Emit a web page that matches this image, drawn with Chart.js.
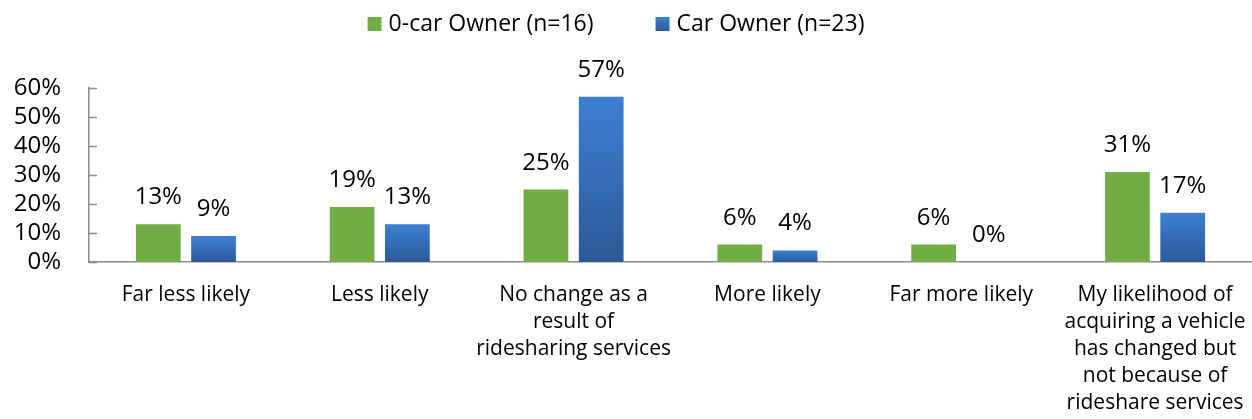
<!DOCTYPE html>
<html>
<head>
<meta charset="utf-8">
<script src="https://cdn.jsdelivr.net/npm/chart.js@4/dist/chart.umd.min.js"></script>
<style>
  body { margin: 0; background: #fff; }
  #wrap { width: 1252px; height: 419px; }
</style>
</head>
<body>
<div id="wrap"><canvas id="grafico" width="1252" height="419"></canvas></div>
<script>
const categorias = [
  'Far less likely',
  'Less likely',
  ['No change as a', 'result of', 'ridesharing services'],
  'More likely',
  'Far more likely',
  ['My likelihood of', 'acquiring a vehicle', 'has changed but', 'not because of', 'rideshare services']
];
const series = ['0-car Owner (n=16)', 'Car Owner (n=23)'];
const semCarro = [13, 19, 25, 6, 6, 31];
const comCarro = [9, 13, 57, 4, 0, 17];
const ticksY = [0, 10, 20, 30, 40, 50, 60];

const fonte = '"Open Sans", "Liberation Sans", sans-serif';
const corEixo = '#8c8c8c';
const verde = '#70ad47';

// gradiente do azul, um por barra (claro em cima, escuro embaixo)
function azul(ctx) {
  const chart = ctx.chart;
  if (!chart.chartArea || ctx.type !== 'data') return '#3a78c9';
  const y = chart.scales.y;
  const topo = y.getPixelForValue(ctx.raw);
  const base = y.getPixelForValue(0);
  if (base - topo < 1) return '#3a78c9';
  const g = chart.ctx.createLinearGradient(0, topo, 0, base);
  g.addColorStop(0, '#3d7fd4');
  g.addColorStop(1, '#2c5a98');
  return g;
}

// legenda, rótulos de valor e tracinhos do eixo y pra dentro
const extras = {
  id: 'extras',
  afterDatasetsDraw(chart) {
    const c = chart.ctx;
    c.save();
    c.font = '24px ' + fonte;
    c.fillStyle = '#000';
    c.textAlign = 'center';
    c.textBaseline = 'alphabetic';
    chart.data.datasets.forEach((ds, i) => {
      chart.getDatasetMeta(i).data.forEach((bar, j) => {
        c.fillText(ds.data[j] + '%', bar.x, bar.y - 20);
      });
    });

    // legenda
    c.font = '23px ' + fonte;
    const caixa = 14, gap = 7, entre = 62;
    const larg = series.map(s => c.measureText(s).width);
    const total = caixa * 2 + gap * 2 + larg[0] + larg[1] + entre;
    let x = (chart.width - total) / 2 - 10;
    const ly = 24;
    c.textAlign = 'left';
    c.textBaseline = 'middle';
    series.forEach((s, i) => {
      if (i === 0) {
        c.fillStyle = verde;
      } else {
        const g = c.createLinearGradient(0, ly - 7, 0, ly + 7);
        g.addColorStop(0, '#3d7fd4');
        g.addColorStop(1, '#2c5a98');
        c.fillStyle = g;
      }
      c.fillRect(x, ly - 7, caixa, caixa);
      x += caixa + gap;
      c.fillStyle = '#000';
      c.fillText(s, x, ly);
      x += larg[i] + entre;
    });

    const y = chart.scales.y;
    const x0 = chart.chartArea.left;
    c.strokeStyle = corEixo;
    c.lineWidth = 1.5;
    ticksY.forEach(v => {
      const py = Math.round(y.getPixelForValue(v)) + 0.5;
      c.beginPath();
      c.moveTo(x0, py);
      c.lineTo(x0 + 8, py);
      c.stroke();
    });
    c.restore();
  }
};

new Chart(document.getElementById('grafico'), {
  type: 'bar',
  data: {
    labels: categorias,
    datasets: [{
      label: series[0],
      data: semCarro,
      backgroundColor: verde,
      categoryPercentage: 0.57,
      barPercentage: 0.81
    }, {
      label: series[1],
      data: comCarro,
      backgroundColor: azul,
      categoryPercentage: 0.57,
      barPercentage: 0.81
    }]
  },
  options: {
    responsive: false,
    animation: false,
    layout: { padding: { top: 88, left: 0, right: 0, bottom: 0 } },
    plugins: {
      legend: { display: false },
      tooltip: { enabled: false }
    },
    scales: {
      x: {
        afterFit(axis) {
          // eixo vai até a borda direita, sem folga pro último rótulo
          axis.height = 157;
          axis.paddingLeft = 0;
          axis.paddingRight = 0;
        },
        grid: { display: false, drawTicks: false },
        border: { color: corEixo, width: 1.5 },
        ticks: {
          color: '#000',
          padding: 19,
          maxRotation: 0,
          autoSkip: false,
          font: { family: fonte, size: 21, lineHeight: 1.295 }
        }
      },
      y: {
        min: 0,
        max: 60,
        afterBuildTicks(axis) {
          axis.ticks = ticksY.map(v => ({ value: v }));
        },
        afterFit(axis) {
          axis.width = 89;
        },
        grid: { display: false, drawTicks: false },
        border: { color: corEixo, width: 1.5 },
        ticks: {
          color: '#000',
          padding: 28,
          font: { family: fonte, size: 24, lineHeight: 1.0 },
          callback: v => v + '%'
        }
      }
    }
  },
  plugins: [extras]
});
</script>
</body>
</html>
